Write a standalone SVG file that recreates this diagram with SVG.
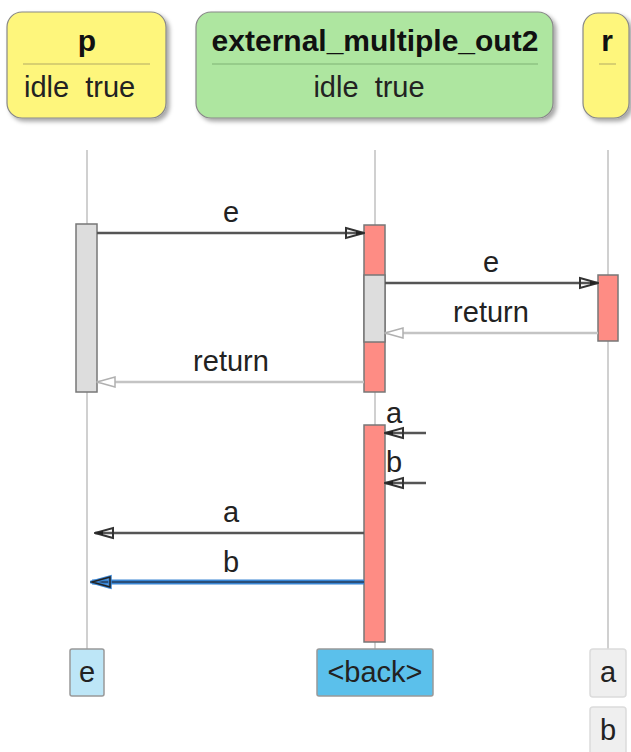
<svg xmlns="http://www.w3.org/2000/svg" width="631" height="752" viewBox="0 0 631 752">
<style>
text{font-family:"Liberation Sans",Arial,sans-serif;font-size:29px;fill:#222;white-space:pre}
.title{font-weight:bold;fill:#111;font-size:30px}
.mid{text-anchor:middle}
.life{stroke:#d0d0d0;stroke-width:2}
.act{stroke:#777;stroke-width:1.5}
.red{fill:#fe8c84}
.gray{fill:#ddd}
.msg{stroke:#555;stroke-width:2.5;fill:none}
.ret{stroke:#c4c4c4;stroke-width:2.5;fill:none}
.box{stroke:#999;stroke-width:1.5}
</style>
<defs>
<filter id="sh" x="-10%" y="-10%" width="130%" height="130%">
<feDropShadow dx="3" dy="3" stdDeviation="2" flood-color="#000" flood-opacity="0.35"/>
</filter>
<marker id="ah" markerWidth="20" markerHeight="14" refX="19" refY="7" orient="auto" markerUnits="userSpaceOnUse">
<path d="M1,2 L19,7 L1,12 Z" fill="none" stroke="#333" stroke-width="2"/>
<path d="M11,5 L19,7 L11,9 Z" fill="#222"/>
</marker>
<marker id="ahr" markerWidth="20" markerHeight="14" refX="19" refY="7" orient="auto" markerUnits="userSpaceOnUse">
<path d="M1,2 L19,7 L1,12 Z" fill="#fff" stroke="#b0b0b0" stroke-width="1.5"/>
</marker>
<marker id="ahb" markerWidth="22" markerHeight="16" refX="20" refY="8" orient="auto" markerUnits="userSpaceOnUse">
<path d="M2,3 L20,8 L2,13 Z" fill="none" stroke="#3a86d4" stroke-width="3.5"/>
<path d="M2,3 L20,8 L2,13 Z" fill="none" stroke="#222" stroke-width="1.5"/>
</marker>
</defs>

<g id="lifelines">
<line class="life" x1="87" y1="150" x2="87" y2="649"/>
<line class="life" x1="375" y1="150" x2="375" y2="649"/>
<line class="life" x1="608" y1="150" x2="608" y2="649"/>
</g>

<g id="node-p">
<rect x="7" y="12" width="159" height="106" rx="15" fill="#fef67c" stroke="#888" stroke-width="1.2" filter="url(#sh)"/>
<text class="title mid" x="87" y="51">p</text>
<line x1="23" y1="64" x2="150" y2="64" stroke="#d8d070" stroke-width="2"/>
<text x="24" y="97">idle  true</text>
</g>

<g id="node-external_multiple_out2">
<rect x="196" y="12" width="357" height="106" rx="15" fill="#aee6a0" stroke="#888" stroke-width="1.2" filter="url(#sh)"/>
<text class="title mid" x="375" y="51">external_multiple_out2</text>
<line x1="212" y1="64" x2="538" y2="64" stroke="#96cc8a" stroke-width="2"/>
<text class="mid" x="369" y="97">idle  true</text>
</g>

<g id="node-r">
<rect x="583" y="13" width="46" height="105" rx="15" fill="#fef67c" stroke="#888" stroke-width="1.2" filter="url(#sh)"/>
<text class="title mid" x="607" y="51">r</text>
<line x1="599" y1="64" x2="616" y2="64" stroke="#d8d070" stroke-width="2"/>
</g>

<g id="activations">
<rect class="act gray" x="76" y="224" width="21" height="168"/>
<rect class="act red" x="364" y="225" width="21" height="167"/>
<rect class="act gray" x="364" y="275" width="21" height="67"/>
<rect class="act red" x="598" y="275" width="20" height="66"/>
<rect class="act red" x="364" y="425" width="21" height="217"/>
</g>

<g id="connectors">
<line class="msg" x1="97" y1="233" x2="364" y2="233" marker-end="url(#ah)"/>
<text class="mid" x="231" y="222">e</text>
<line class="msg" x1="385" y1="283" x2="598" y2="283" marker-end="url(#ah)"/>
<text class="mid" x="491" y="272">e</text>
<line class="ret" x1="598" y1="333" x2="385" y2="333" marker-end="url(#ahr)"/>
<text class="mid" x="491" y="322">return</text>
<line class="ret" x1="364" y1="382" x2="97" y2="382" marker-end="url(#ahr)"/>
<text class="mid" x="231" y="371">return</text>
<line class="msg" x1="426" y1="433" x2="385" y2="433" marker-end="url(#ah)"/>
<text x="386" y="423">a</text>
<line class="msg" x1="426" y1="483" x2="385" y2="483" marker-end="url(#ah)"/>
<text x="386" y="472">b</text>
<line class="msg" x1="364" y1="533" x2="95" y2="533" marker-end="url(#ah)"/>
<text class="mid" x="231" y="522">a</text>
<line x1="364" y1="582" x2="92" y2="582" stroke="#3a86d4" stroke-width="5"/>
<line x1="364" y1="582" x2="92" y2="582" stroke="#2a4f7a" stroke-width="2" marker-end="url(#ahb)"/>
<text class="mid" x="231" y="572">b</text>
</g>

<g id="end-e">
<rect class="box" x="70" y="649" width="34" height="47" rx="2" fill="#bde6f7"/>
<text class="mid" x="87" y="682">e</text>
</g>
<g id="end-back">
<rect class="box" x="317" y="649" width="116" height="47" rx="2" fill="#5bc0eb"/>
<text class="mid" x="375" y="682">&lt;back&gt;</text>
</g>
<g id="end-a">
<rect x="590" y="649" width="36" height="48" rx="3" fill="#efefef" stroke="#dcdcdc" stroke-width="1.5"/>
<text class="mid" x="608" y="682">a</text>
</g>
<g id="end-b">
<rect x="590" y="707" width="36" height="48" rx="3" fill="#efefef" stroke="#dcdcdc" stroke-width="1.5"/>
<text class="mid" x="608" y="740">b</text>
</g>
</svg>
